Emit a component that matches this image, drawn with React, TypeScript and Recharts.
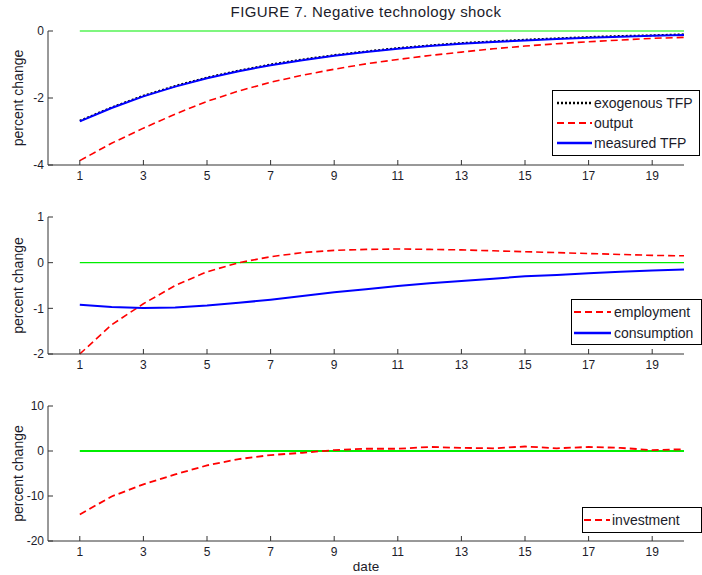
import React from 'react';
import { LineChart, Line, XAxis, YAxis, Legend } from 'recharts';

const dates = [1, 2, 3, 4, 5, 6, 7, 8, 9, 10, 11, 12, 13, 14, 15, 16, 17, 18, 19, 20];
const xTicks = [1, 3, 5, 7, 9, 11, 13, 15, 17, 19];
const zeroLine = [0, 0, 0, 0, 0, 0, 0, 0, 0, 0, 0, 0, 0, 0, 0, 0, 0, 0, 0, 0];

// panel 1
const exogenousTfp = [-2.68, -2.28, -1.93, -1.64, -1.39, -1.18, -1.0, -0.85, -0.72, -0.61, -0.51, -0.43, -0.36, -0.31, -0.26, -0.22, -0.18, -0.15, -0.13, -0.1];
const output = [-3.87, -3.35, -2.9, -2.48, -2.1, -1.79, -1.53, -1.32, -1.14, -0.98, -0.85, -0.73, -0.63, -0.53, -0.45, -0.38, -0.32, -0.27, -0.22, -0.19];
const measuredTfp = [-2.7, -2.3, -1.95, -1.66, -1.41, -1.2, -1.02, -0.87, -0.74, -0.63, -0.53, -0.45, -0.38, -0.33, -0.28, -0.24, -0.2, -0.17, -0.145, -0.12];
const topYTicks = [-4, -2, 0];

// panel 2
const employment = [-2.0, -1.36, -0.9, -0.5, -0.2, 0.0, 0.13, 0.22, 0.27, 0.29, 0.3, 0.29, 0.28, 0.26, 0.24, 0.22, 0.2, 0.18, 0.16, 0.15];
const consumption = [-0.92, -0.97, -0.99, -0.98, -0.94, -0.88, -0.81, -0.73, -0.65, -0.58, -0.51, -0.45, -0.4, -0.35, -0.3, -0.27, -0.23, -0.2, -0.17, -0.15];
const midYTicks = [-2, -1, 0, 1];

// panel 3
const investment = [-14.1, -10.1, -7.4, -5.2, -3.2, -1.8, -0.9, -0.4, 0.2, 0.5, 0.5, 0.9, 0.7, 0.6, 1.0, 0.6, 0.9, 0.7, 0.2, 0.4];
const botYTicks = [-20, -10, 0, 10];

const rows = dates.map((d, i) => ({
  date: d,
  zero: zeroLine[i],
  exog: exogenousTfp[i],
  output: output[i],
  tfp: measuredTfp[i],
  employment: employment[i],
  consumption: consumption[i],
  investment: investment[i],
}));

type SeriesDef = { key: string; name: string; color: string; width: number; dash?: string };

const RED = '#ff0000';
const BLUE = '#0000ff';
const GREEN = '#00ee00';
const AXIS = '#333333';
const TEXT = '#1c1c2a';

const topSeries: SeriesDef[] = [
  { key: 'exog', name: 'exogenous TFP', color: '#000000', width: 2, dash: '2 2' },
  { key: 'output', name: 'output', color: RED, width: 1.6, dash: '7 4' },
  { key: 'tfp', name: 'measured TFP', color: BLUE, width: 2 },
];
const midSeries: SeriesDef[] = [
  { key: 'employment', name: 'employment', color: RED, width: 1.6, dash: '7 4' },
  { key: 'consumption', name: 'consumption', color: BLUE, width: 2 },
];
const botSeries: SeriesDef[] = [
  { key: 'investment', name: 'investment', color: RED, width: 1.8, dash: '7 4' },
];

const BoxLegend = (props: any) => {
  const { payload = [], series, padL, padT, sampleW, gap, rowH } = props;
  const items = series.filter((s: SeriesDef) => payload.some((p: any) => p.dataKey === s.key));
  return (
    <div style={{ border: '1px solid #000', background: '#fff', paddingLeft: padL, paddingTop: padT, paddingBottom: padT, boxSizing: 'border-box' }}>
      {items.map((s: SeriesDef) => (
        <div key={s.key} style={{ display: 'flex', alignItems: 'center', height: rowH }}>
          <svg width={sampleW} height={6} style={{ display: 'block' }}>
            <line x1={0} y1={3} x2={sampleW} y2={3} stroke={s.color} strokeWidth={s.width + 0.4} strokeDasharray={s.dash} />
          </svg>
          <span style={{ marginLeft: gap, fontSize: 14, color: TEXT, whiteSpace: 'nowrap' }}>{s.name}</span>
        </div>
      ))}
    </div>
  );
};

type PanelProps = {
  top: number;
  height: number;
  marginTop: number;
  xAxisHeight: number;
  yDomain: [number, number];
  yTicks: number[];
  series: SeriesDef[];
  zeroWidth: number;
  legend: { left: number; top: number; width: number; padL: number; padT: number; sampleW: number; gap: number; rowH: number };
  showDate?: boolean;
};

const Panel = ({ top, height, marginTop, xAxisHeight, yDomain, yTicks, series, zeroWidth, legend, showDate }: PanelProps) => (
  <div style={{ position: 'absolute', left: 0, top, width: 702, height }}>
    <LineChart width={702} height={height} data={rows} margin={{ top: marginTop, right: 18, bottom: 0, left: 0 }}>
      <XAxis
        dataKey="date"
        type="number"
        domain={[0, 20]}
        ticks={xTicks}
        height={xAxisHeight}
        stroke={AXIS}
        tickSize={-5}
        tickMargin={11}
        tick={{ fill: TEXT, fontSize: 12 }}
        label={showDate ? { value: 'date', position: 'insideBottom', offset: 4, fill: TEXT, fontSize: 13.5 } : undefined}
      />
      <XAxis xAxisId="top" orientation="top" type="number" domain={[0, 20]} ticks={xTicks} height={0} stroke={AXIS} tickSize={-5} tickFormatter={() => ''} />
      <YAxis
        type="number"
        domain={yDomain}
        ticks={yTicks}
        width={48}
        stroke={AXIS}
        tickSize={-5}
        tickMargin={9}
        tick={{ fill: TEXT, fontSize: 12 }}
        label={{ value: 'percent change', angle: -90, position: 'center', dx: -6, fill: TEXT, fontSize: 14 }}
      />
      <YAxis yAxisId="right" orientation="right" type="number" domain={yDomain} ticks={yTicks} width={0} stroke={AXIS} tickSize={-5} tickFormatter={() => ''} />
      <Legend
        layout="vertical"
        align="center"
        verticalAlign="middle"
        wrapperStyle={{ left: legend.left, top: legend.top, width: legend.width }}
        content={<BoxLegend series={series} padL={legend.padL} padT={legend.padT} sampleW={legend.sampleW} gap={legend.gap} rowH={legend.rowH} />}
      />
      <Line dataKey="zero" stroke={GREEN} strokeWidth={zeroWidth} dot={false} legendType="none" isAnimationActive={false} type="linear" />
      {series.map((s) => (
        <Line
          key={s.key}
          dataKey={s.key}
          name={s.name}
          stroke={s.color}
          strokeWidth={s.width}
          strokeDasharray={s.dash}
          dot={false}
          type="linear"
          isAnimationActive={false}
        />
      ))}
    </LineChart>
  </div>
);

export default function App() {
  return (
    <div style={{ position: 'absolute', left: 0, top: 0, width: 702, height: 575, background: '#fff', fontFamily: '"Liberation Sans", Arial, sans-serif', overflow: 'hidden' }}>
      <div style={{ position: 'absolute', left: 48, top: 3, width: 636, textAlign: 'center', fontSize: 15, lineHeight: '18px', letterSpacing: 0.4, color: TEXT }}>
        FIGURE 7. Negative technology shock
      </div>
      <Panel
        top={0}
        height={190}
        marginTop={31}
        xAxisHeight={25}
        yDomain={[-4, 0]}
        yTicks={topYTicks}
        series={topSeries}
        zeroWidth={1.2}
        legend={{ left: 552, top: 90, width: 148, padL: 4, padT: 2, sampleW: 35, gap: 2, rowH: 20 }}
      />
      <Panel
        top={190}
        height={190}
        marginTop={27}
        xAxisHeight={26}
        yDomain={[-2, 1]}
        yTicks={midYTicks}
        series={midSeries}
        zeroWidth={1.2}
        legend={{ left: 571, top: 109, width: 131, padL: 2, padT: 1, sampleW: 37, gap: 3, rowH: 21 }}
      />
      <Panel
        top={380}
        height={195}
        marginTop={26}
        xAxisHeight={34}
        yDomain={[-20, 10]}
        yTicks={botYTicks}
        series={botSeries}
        zeroWidth={2}
        legend={{ left: 582, top: 127, width: 120, padL: 1, padT: 0, sampleW: 26, gap: 2, rowH: 24 }}
        showDate
      />
    </div>
  );
}
